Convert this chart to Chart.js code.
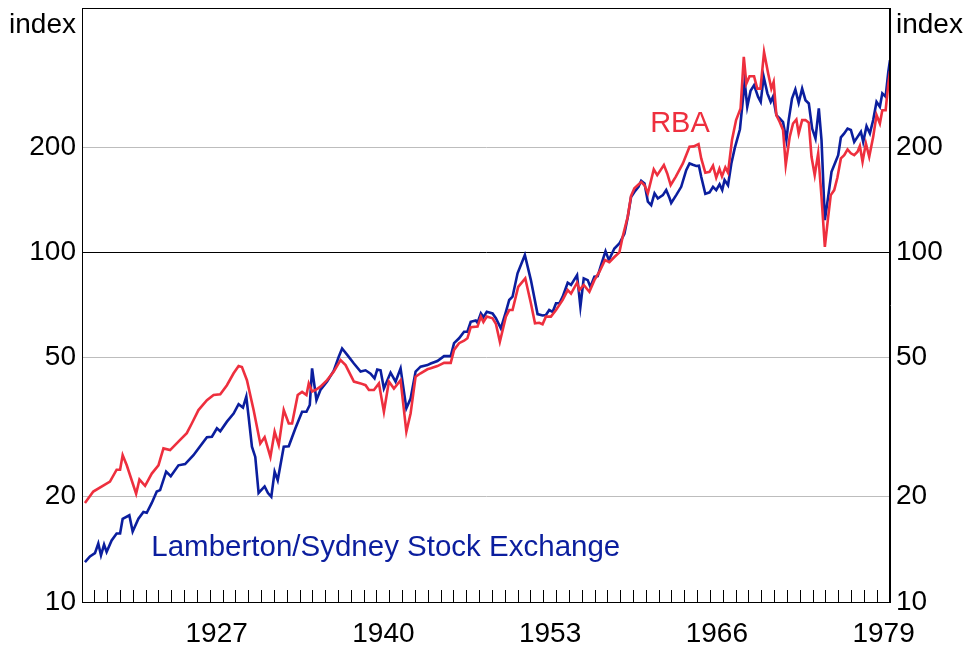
<!DOCTYPE html>
<html>
<head>
<meta charset="utf-8">
<script src="https://cdn.jsdelivr.net/npm/chart.js@4.4.1/dist/chart.umd.min.js"></script>
<style>
  html, body { margin: 0; padding: 0; background: #fff; }
</style>
</head>
<body>
<canvas id="chart" width="968" height="650"></canvas>
<script>
// Share price indices, log scale, 1917-1980
const rbaYears = [1917.23,1917.88,1919.18,1919.7,1919.97,1920.17,1920.49,1921.22,1921.48,1921.92,1922.44,1922.96,1923.35,1923.87,1924.65,1925.17,1925.56,1926.08,1926.74,1927.26,1927.78,1928.3,1928.82,1929.21,1929.47,1929.86,1930.38,1930.9,1931.24,1931.69,1932.02,1932.34,1932.73,1933.12,1933.38,1933.82,1934.16,1934.5,1934.68,1934.94,1935.2,1935.59,1936.11,1936.63,1937.16,1937.55,1938.2,1938.72,1939.11,1939.37,1939.76,1940.15,1940.54,1940.93,1941.32,1941.84,1942.29,1942.62,1943.01,1943.4,1943.93,1944.19,1944.71,1945.23,1945.75,1946.01,1946.4,1946.79,1947.05,1947.31,1947.84,1948.1,1948.3,1948.56,1949.01,1949.27,1949.58,1950.05,1950.31,1950.57,1951.01,1951.56,1952.0,1952.32,1952.65,1952.91,1953.17,1953.56,1953.96,1954.48,1954.87,1955.13,1955.6,1955.78,1956.12,1956.56,1956.95,1957.34,1957.78,1958.12,1958.51,1958.9,1959.16,1959.55,1959.81,1960.07,1960.6,1960.86,1961.12,1961.58,1961.85,1962.37,1962.63,1962.9,1963.3,1963.85,1964.37,1964.7,1965.07,1965.28,1965.6,1965.93,1966.2,1966.45,1966.7,1966.9,1967.16,1967.37,1967.68,1968.0,1968.35,1968.6,1968.8,1969.05,1969.4,1969.65,1969.9,1970.18,1970.5,1970.75,1970.93,1971.14,1971.4,1971.66,1971.87,1972.18,1972.44,1972.7,1972.88,1973.15,1973.41,1973.67,1973.88,1974.13,1974.4,1974.66,1974.92,1975.18,1975.38,1975.65,1975.9,1976.17,1976.43,1976.69,1976.95,1977.21,1977.47,1977.65,1977.86,1978.12,1978.38,1978.69,1978.95,1979.21,1979.4,1979.66,1979.87,1980.0];
const rbaIndex = [19.2,20.7,22.1,23.9,23.9,26.3,24.6,20.4,22.4,21.5,23.3,24.6,27.5,27.2,29.1,30.4,32.4,35.4,37.8,39.1,39.3,41.7,45.1,47.3,47.0,43.1,35.4,28.4,29.6,26.0,30.7,28.1,35.4,32.4,32.4,39.1,39.9,39.1,42.2,40.0,40.4,41.3,43.1,45.6,49.2,47.6,42.7,42.2,41.7,40.4,40.4,42.2,35.0,42.7,40.8,43.1,30.7,34.6,44.1,45.1,46.3,46.6,47.3,48.3,48.3,52.6,55.0,55.9,56.8,61.1,61.4,65.5,63.2,65.5,64.8,62.5,55.5,65.5,68.4,68.4,79.7,84.3,71.5,62.7,62.9,62.3,65.5,65.5,68.4,73.1,78.0,76.2,81.9,78.0,80.7,77.1,83.3,88.0,95.1,93.8,97.0,100.0,111,126.4,145,152.5,159,155.6,147.5,172.8,166.3,177.7,168.2,155.8,164.6,179.6,200.4,201,204,185.7,169,170,177,163.5,173.5,165,175,169,209.5,239,258,362.5,304,319,319,294,294,374,325,294,307.5,247,236,224,177.7,214,233.6,240,218.9,239,239,234.9,187.7,166.3,192,144.2,103.7,126.4,145.8,150.7,163.8,185.7,189.7,197,192,189.7,194,201.4,181.6,205,187.7,214,247,233.6,255,255,304,330];

const lambYears = [1917.23,1917.62,1918.01,1918.27,1918.48,1918.72,1918.92,1919.31,1919.7,1919.97,1920.17,1920.69,1920.95,1921.4,1921.79,1922.05,1922.44,1922.83,1923.09,1923.56,1923.92,1924.52,1925.04,1925.69,1926.08,1926.74,1927.13,1927.52,1927.78,1928.3,1928.82,1929.21,1929.55,1929.81,1929.99,1930.25,1930.51,1930.77,1931.24,1931.5,1931.76,1932.02,1932.26,1932.73,1933.12,1933.64,1934.16,1934.5,1934.76,1934.94,1935.28,1935.59,1936.11,1936.63,1937.02,1937.28,1937.68,1938.2,1938.72,1939.11,1939.5,1939.81,1940.02,1940.28,1940.54,1941.06,1941.45,1941.84,1942.29,1942.62,1943.01,1943.4,1943.93,1944.19,1944.71,1945.23,1945.75,1946.01,1946.4,1946.79,1947.05,1947.31,1947.7,1947.84,1948.1,1948.3,1948.56,1949.01,1949.27,1949.66,1950.05,1950.31,1950.57,1950.96,1951.53,1952.0,1952.52,1952.91,1953.17,1953.43,1953.7,1953.96,1954.22,1954.48,1954.87,1955.13,1955.6,1955.86,1956.12,1956.43,1956.64,1956.95,1957.21,1957.47,1957.82,1958.08,1958.51,1958.9,1959.29,1959.55,1959.81,1960.07,1960.39,1960.6,1960.86,1961.12,1961.38,1961.64,1961.9,1962.29,1962.55,1962.81,1962.94,1963.33,1963.72,1964.11,1964.37,1964.63,1964.89,1965.1,1965.28,1965.6,1965.93,1966.2,1966.45,1966.71,1966.92,1967.1,1967.37,1967.63,1967.89,1968.3,1968.67,1968.87,1969.13,1969.4,1969.71,1969.92,1970.15,1970.44,1970.7,1970.88,1971.14,1971.4,1971.66,1971.92,1972.1,1972.36,1972.62,1972.88,1973.15,1973.41,1973.67,1973.93,1974.19,1974.45,1974.66,1974.92,1975.18,1975.44,1975.7,1975.96,1976.17,1976.43,1976.69,1976.95,1977.21,1977.47,1977.73,1977.91,1978.17,1978.43,1978.69,1978.95,1979.21,1979.4,1979.66,1979.87,1980.0];
const lambIndex = [13.0,13.5,13.8,14.7,13.6,14.6,13.9,15.0,15.7,15.7,17.3,17.7,15.9,17.3,18.1,18.0,19.2,20.7,20.9,23.6,22.9,24.6,24.8,26.3,27.5,29.6,29.7,31.4,30.8,32.8,34.6,36.8,36.0,38.7,33.9,27.8,26.0,20.5,21.4,20.5,20.0,23.6,22.3,27.8,27.9,31.4,35.0,35.0,36.6,46.6,37.8,40.4,42.7,45.9,50.3,53.1,50.9,48.1,45.6,46.0,45.0,43.6,46.2,46.0,40.8,45.3,42.7,46.6,35.8,38.2,45.6,47.1,47.6,48.1,48.9,50.5,50.5,55.0,56.8,59.3,59.3,63.3,63.9,62.9,66.9,65.3,67.6,66.9,64.8,60.6,67.6,73.1,74.7,87.1,98.3,83.3,66.6,66.0,66.2,68.4,67.6,71.5,71.5,74.7,81.9,80.7,86.1,69.9,84.3,83.3,79.6,85.2,85.5,92.0,100.8,95.0,102.6,106,113,126,144,148.9,154,160.2,157.4,139.6,136.5,147.5,142.6,145.8,150.7,143,138.5,145.8,154,171.9,179.6,178,176.7,177,164.6,147,148.5,154,150.7,156.6,150.7,161,155.6,179.6,198.3,225,308,261,290,300.8,278.8,269.5,318,285,269.5,278.8,247,241.5,236,209.5,239,275.5,292.6,267.7,294,272.4,266.6,226,211.8,258,209.5,123.7,144.2,170.1,179.6,189.7,213.2,218.9,226,224,207,214,221.3,207,229.6,218.9,239,269.5,260.8,285,278.8,328.5,354.8];

const yTicks = [10, 20, 50, 100, 200];
const labelYears = [1927, 1940, 1953, 1966, 1979];
const firstYear = 1917, lastYear = 1980;

const RED = '#ee2f3e';
const BLUE = '#0b1e9e';
const FONT = "'Liberation Sans', Arial, sans-serif";

const tickYears = [];
for (let yr = firstYear; yr <= lastYear; yr++) tickYears.push(yr);

const toPoints = (xs, ys) => xs.map((x, i) => ({ x: x, y: ys[i] }));

// frame round the plot, plus the text labels
const decorations = {
    id: 'decorations',
    afterDraw(chart) {
        const { ctx, chartArea: a, scales } = chart;
        ctx.save();
        ctx.strokeStyle = '#000';
        ctx.lineWidth = 1;
        ctx.strokeRect(Math.round(a.left) + 0.5, Math.round(a.top) + 0.5,
            Math.round(a.right - a.left) - 1, Math.round(a.bottom - a.top));

        ctx.font = `28px ${FONT}`;
        ctx.fillStyle = '#000';
        ctx.textBaseline = 'alphabetic';
        ctx.textAlign = 'right';
        ctx.fillText('index', a.left - 6, 33);
        ctx.textAlign = 'left';
        ctx.fillText('index', a.right + 6, 33);

        ctx.font = `29px ${FONT}`;
        ctx.fillStyle = RED;
        ctx.fillText('RBA', scales.x.getPixelForValue(1961.3), scales.y.getPixelForValue(221));
        ctx.font = `29.5px ${FONT}`;
        ctx.fillStyle = BLUE;
        ctx.fillText('Lamberton/Sydney Stock Exchange', scales.x.getPixelForValue(1922.4), scales.y.getPixelForValue(13.5));
        ctx.restore();
    }
};

const yAxis = (pos, width) => ({
    type: 'logarithmic',
    position: pos,
    min: 10,
    max: 500,
    afterBuildTicks: s => { s.ticks = yTicks.map(v => ({ value: v })); },
    afterFit: s => { s.width = width; s.paddingTop = 0; s.paddingBottom = 0; },
    grid: {
        display: pos === 'left',
        drawOnChartArea: pos === 'left',
        drawTicks: false,
        lineWidth: 1,
        color: c => {
            const v = c.tick ? c.tick.value : 0;
            if (v === 100) return '#000';
            if (v === 10) return 'rgba(0,0,0,0)';
            return '#bdbdbd';
        }
    },
    border: { display: true, color: '#000', width: 1 },
    ticks: {
        padding: 6,
        color: '#000',
        font: { size: 28, family: FONT },
        callback: v => String(v)
    }
});

new Chart(document.getElementById('chart'), {
    type: 'line',
    data: {
        datasets: [
            {
                label: 'RBA',
                data: toPoints(rbaYears, rbaIndex),
                borderColor: RED,
                borderWidth: 2.6,
                pointRadius: 0,
                tension: 0,
                yAxisID: 'y'
            },
            {
                label: 'Lamberton/Sydney Stock Exchange',
                data: toPoints(lambYears, lambIndex),
                borderColor: BLUE,
                borderWidth: 2.6,
                pointRadius: 0,
                tension: 0,
                yAxisID: 'y'
            }
        ]
    },
    options: {
        responsive: false,
        animation: false,
        layout: { padding: { top: 8, left: 0, right: 0, bottom: 0 } },
        plugins: {
            legend: { display: false },
            tooltip: { enabled: false }
        },
        scales: {
            x: {
                type: 'linear',
                min: firstYear,
                max: lastYear,
                position: 'bottom',
                afterBuildTicks: s => { s.ticks = tickYears.map(v => ({ value: v })); },
                afterFit: s => { s.height = 48; s.paddingLeft = 0; s.paddingRight = 0; },
                grid: {
                    drawOnChartArea: false,
                    drawTicks: true,
                    tickLength: -12,
                    color: '#000',
                    lineWidth: 1
                },
                border: { display: true, color: '#000', width: 1 },
                ticks: {
                    autoSkip: false,
                    maxRotation: 0,
                    minRotation: 0,
                    labelOffset: 6.4,
                    padding: 27,
                    color: '#000',
                    font: { size: 28, family: FONT },
                    callback: v => labelYears.includes(v) ? String(v) : ''
                }
            },
            y: yAxis('left', 82),
            y2: yAxis('right', 78)
        }
    },
    plugins: [decorations]
});
</script>
</body>
</html>
